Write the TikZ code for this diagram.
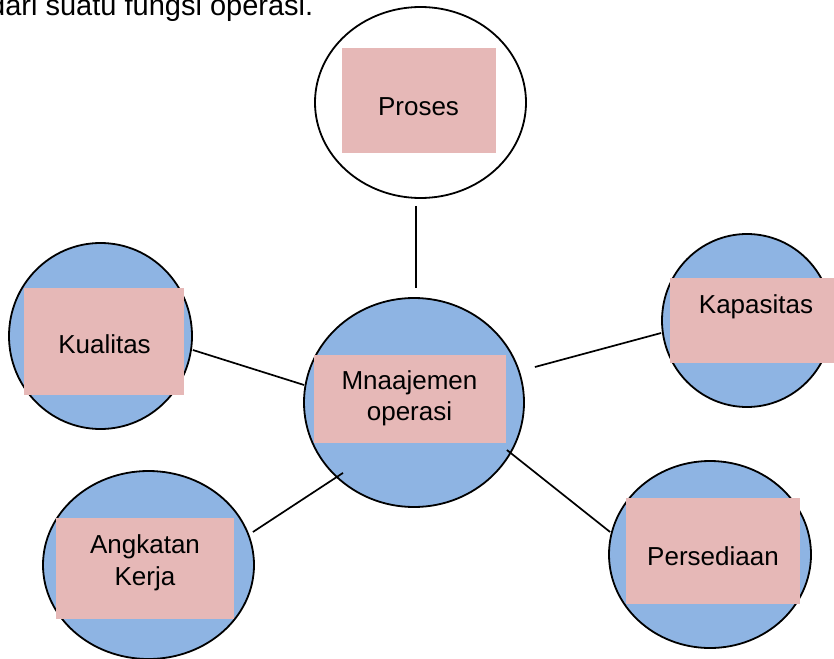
\documentclass[tikz,border=0pt]{standalone}
\usepackage{fontspec}
\setmainfont{Liberation Sans}
\usetikzlibrary{shapes.geometric}
\definecolor{bubble}{HTML}{8EB4E3}
\definecolor{tag}{HTML}{E6B8B7}
\tikzset{
  bubble/.style={ellipse, draw=black, line width=1.8pt, fill=bubble, inner sep=0pt},
  tagbox/.style={rectangle, fill=tag, inner sep=0pt},
  label/.style={anchor=base, inner sep=0pt, font=\fontsize{26}{31}\selectfont},
  link/.style={line width=1.7pt, black},
}
\begin{document}
\begin{tikzpicture}[x=1pt, y=-1pt]
\useasboundingbox (0,0) rectangle (834,658);

% heading line running off the top edge
\node[anchor=base west, inner sep=0pt, font=\fontsize{29}{34}\selectfont] (head) at (-11,16) {dari suatu fungsi operasi.};

% outer circles
\node[bubble, fill=white, minimum width=211pt, minimum height=191pt] (proses) at (420.5,102.5) {};
\node[bubble, minimum width=183pt, minimum height=186pt] (kual) at (100.5,336) {};
\node[bubble, minimum width=220pt, minimum height=209pt] (mid) at (414,402.5) {};
\node[bubble, minimum width=170pt, minimum height=173pt] (kap) at (747,320.5) {};
\node[bubble, minimum width=211pt, minimum height=188pt] (ang) at (148.5,565) {};
\node[bubble, minimum width=202pt, minimum height=187pt] (pers) at (710,554.5) {};

% label boxes
\node[tagbox, minimum width=154pt, minimum height=105pt] (prosesbox) at (419,100.5) {};
\node[tagbox, minimum width=160pt, minimum height=107pt] (kualbox) at (104,341.5) {};
\node[tagbox, minimum width=192pt, minimum height=88pt] (midbox) at (410,399) {};
\node[tagbox, minimum width=172pt, minimum height=85pt] (kapbox) at (756,320.5) {};
\node[tagbox, minimum width=178pt, minimum height=101pt] (angbox) at (145,568.5) {};
\node[tagbox, minimum width=174pt, minimum height=106pt] (persbox) at (713,551) {};

% texts
\node[label] (tproses) at (418.5,115) {Proses};
\node[label] (tkual) at (104.5,353) {Kualitas};
\node[label] (tkap) at (756,313) {Kapasitas};
\node[label] (tpers) at (713,565) {Persediaan};
\node[label] (tmid1) at (409.5,389) {Mnaajemen};
\node[label] (tmid2) at (409.5,420) {operasi};
\node[label] (tang1) at (145,553) {Angkatan};
\node[label] (tang2) at (145,585) {Kerja};

% connectors
\draw[link] ([xshift=-4.5pt,yshift=-7pt]proses.south) -- ([xshift=2pt,yshift=9pt]mid.north);
\draw[link] ([yshift=-14pt]kual.east) -- ([xshift=1pt,yshift=17.5pt]mid.west);
\draw[link] ([yshift=-12.5pt]kap.west) -- ([xshift=10pt,yshift=35.5pt]mid.east);
\draw[link] ([xshift=-2pt,yshift=33pt]ang.east) -- ([xshift=-71pt,yshift=35pt]mid.south);
\draw[link] ([xshift=-18pt,yshift=-47.5pt]mid.east) -- ([xshift=2pt,yshift=22.5pt]pers.west);
\end{tikzpicture}
\end{document}
